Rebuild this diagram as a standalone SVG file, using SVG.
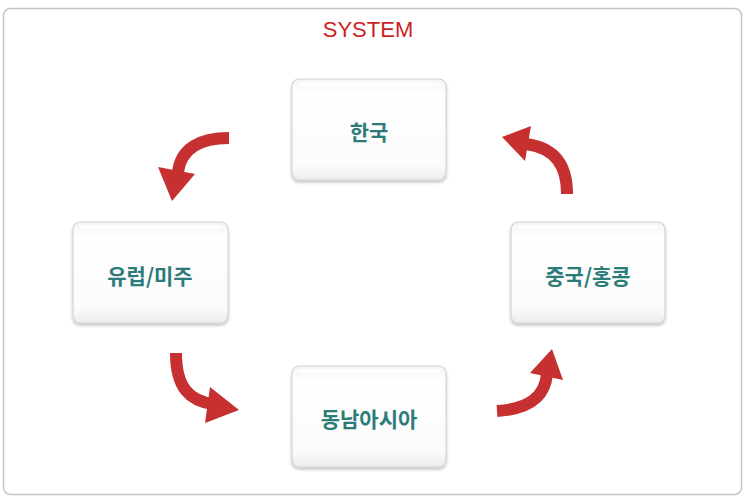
<svg xmlns="http://www.w3.org/2000/svg" width="748" height="500" viewBox="0 0 748 500">
<style>
.lbl{font-family:"Noto Sans CJK KR","Noto Sans",sans-serif;font-size:21px;font-weight:bold;fill:#2b7b78;text-anchor:middle;dominant-baseline:central}
.box{fill:url(#bg);stroke:#d4d4d4;stroke-width:1.2;filter:url(#sh)}
.hl{fill:none;stroke:#ffffff;stroke-width:3;stroke-linecap:round;opacity:0.9}
.shaft{fill:none;stroke:#c63030;stroke-width:12}
.head{fill:#c63030}
</style>
<defs>
<linearGradient id="bg" x1="0" y1="0" x2="0" y2="1">
<stop offset="0" stop-color="#f4f4f4"/>
<stop offset="0.15" stop-color="#ffffff"/>
<stop offset="0.85" stop-color="#fbfbfb"/>
<stop offset="1" stop-color="#ececec"/>
</linearGradient>
<filter id="sh" x="-10%" y="-10%" width="120%" height="130%">
<feGaussianBlur in="SourceAlpha" stdDeviation="1.5"/>
<feOffset dy="1.5"/>
<feComponentTransfer><feFuncA type="linear" slope="0.25"/></feComponentTransfer>
<feMerge><feMergeNode/><feMergeNode in="SourceGraphic"/></feMerge>
</filter>
</defs>
<rect x="0" y="0" width="748" height="500" fill="#ffffff"/>
<rect x="3.5" y="8.5" width="738" height="486" rx="7" fill="#ffffff" stroke="#c4c4c4" stroke-width="1.5"/>
<text x="368" y="37" font-family="Liberation Sans, Arial, sans-serif" font-size="22" fill="#cc1f1f" text-anchor="middle">SYSTEM</text>

<g id="connectors">
<path class="shaft" d="M229,138 C200,138 181,148 178,172"/>
<polygon class="head" points="158,167 195,174 172,201"/>
<path class="shaft" d="M567,194 C567,166 556,148 526,144"/>
<polygon class="head" points="502,137 531,126 525,161"/>
<path class="shaft" d="M176,353 C176,388 190,401 213,404"/>
<polygon class="head" points="210,387 239,410 205,423"/>
<path class="shaft" d="M497,411 C530,409 545,396 547,374"/>
<polygon class="head" points="552,349 530,373 563,380"/>
</g>

<g id="node-korea">
<rect class="box" x="292" y="79" width="154" height="101" rx="7"/>
<line class="hl" x1="300" y1="84" x2="438" y2="84"/>
<text class="lbl" x="369" y="131">한국</text>
</g>
<g id="node-europe">
<rect class="box" x="73" y="222" width="155" height="101" rx="7"/>
<line class="hl" x1="81" y1="227" x2="220" y2="227"/>
<text class="lbl" x="150" y="274.5">유럽/미주</text>
</g>
<g id="node-china">
<rect class="box" x="511" y="222" width="154" height="101" rx="7"/>
<line class="hl" x1="519" y1="227" x2="657" y2="227"/>
<text class="lbl" x="588" y="274.5">중국/홍콩</text>
</g>
<g id="node-sea">
<rect class="box" x="292" y="366" width="154" height="101" rx="7"/>
<line class="hl" x1="300" y1="371" x2="438" y2="371"/>
<text class="lbl" x="369" y="418">동남아시아</text>
</g>
</svg>
